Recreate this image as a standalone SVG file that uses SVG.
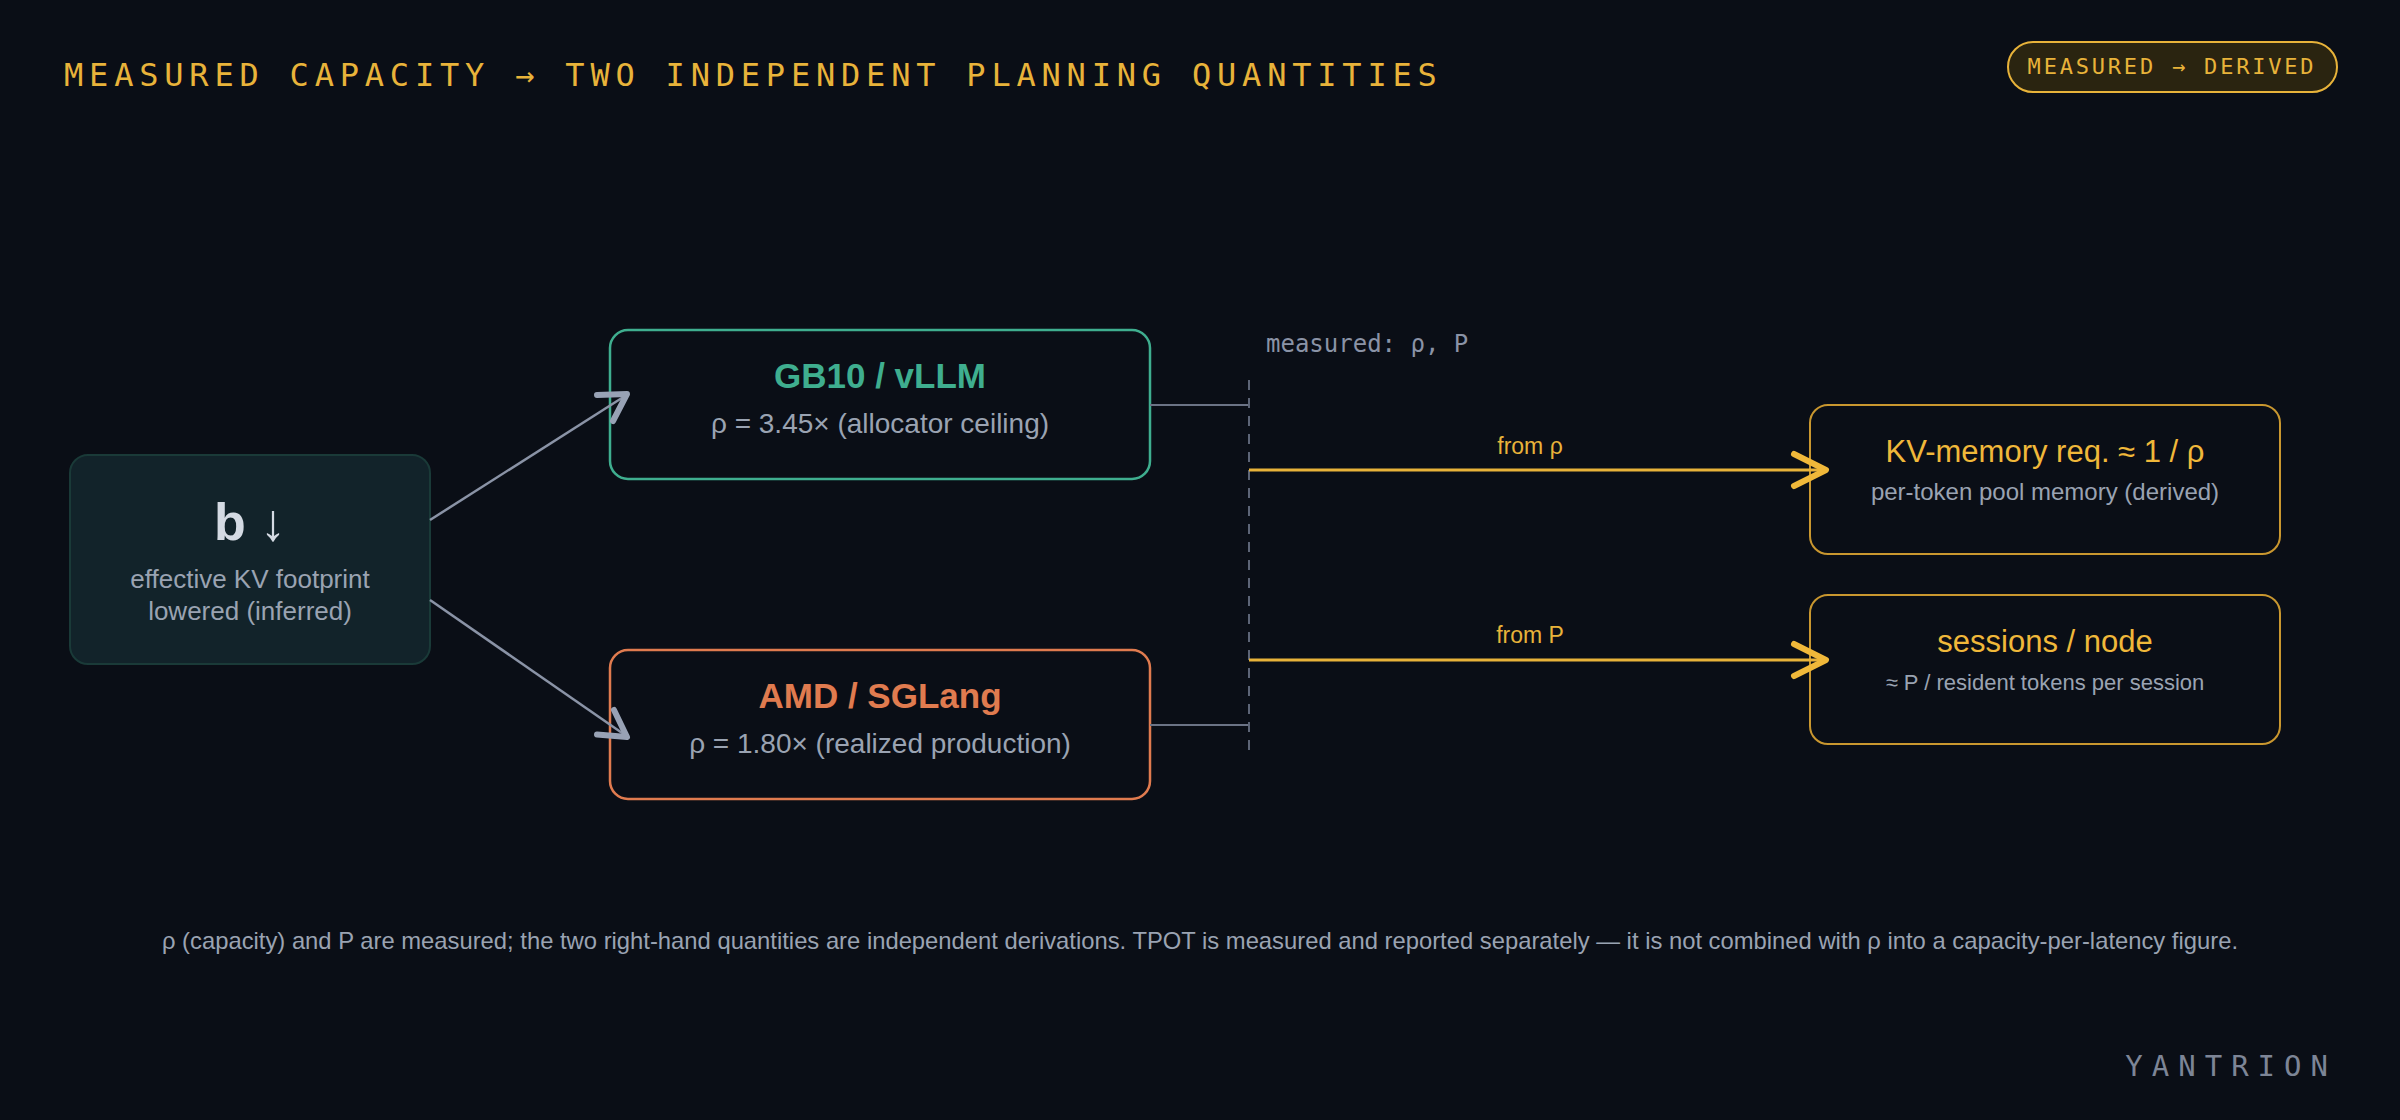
<svg xmlns="http://www.w3.org/2000/svg" width="2400" height="1120" viewBox="0 0 2400 1120">
<defs>
<style>
.mono{font-family:"DejaVu Sans Mono","Liberation Mono",monospace}
.sans{font-family:"Liberation Sans",Arial,sans-serif}
.sub{fill:#9aa3b2;font-size:28px}
.dsub{fill:#9aa3b2;font-size:24px}
.conn{stroke:#8a93a6;stroke-width:2.5;fill:none}
.gold{stroke:#e8b33a;stroke-width:3;fill:none}
.headg{fill:none;stroke:#f0b83a;stroke-width:6;stroke-linecap:round;stroke-linejoin:round}
.headw{fill:none;stroke:#98a2b5;stroke-width:6;stroke-linecap:round;stroke-linejoin:round}
</style>
</defs>
<rect width="2400" height="1120" fill="#0a0e16"/>
<text x="64" y="86" class="mono" font-size="32" fill="#e8b33a" letter-spacing="5.8">MEASURED CAPACITY → TWO INDEPENDENT PLANNING QUANTITIES</text>
<g id="badge">
<rect x="2008" y="42" width="329" height="50" rx="25" fill="#2a2410" stroke="#e8b33a" stroke-width="2"/>
<text x="2172" y="74" class="mono" font-size="22" fill="#e8b33a" text-anchor="middle" letter-spacing="2.8">MEASURED → DERIVED</text>
</g>
<g id="node-b">
<rect x="70" y="455" width="360" height="209" rx="18" fill="#12232a" stroke="#1a3a38" stroke-width="2"/>
<text x="250" y="540" class="sans" font-size="52" fill="#d4dae3" text-anchor="middle"><tspan font-weight="bold">b</tspan> ↓</text>
<text x="250" y="588" class="sans sub" text-anchor="middle" style="font-size:26px">effective KV footprint</text>
<text x="250" y="620" class="sans sub" text-anchor="middle" style="font-size:26px">lowered (inferred)</text>
</g>
<g id="node-gb10">
<rect x="610" y="330" width="540" height="149" rx="18" fill="#0a0e16" stroke="#3fae8f" stroke-width="2.5"/>
<text x="880" y="388" class="sans" font-size="35" font-weight="bold" fill="#3fae8f" text-anchor="middle">GB10 / vLLM</text>
<text x="880" y="433" class="sans sub" text-anchor="middle">ρ = 3.45× (allocator ceiling)</text>
</g>
<g id="node-amd">
<rect x="610" y="650" width="540" height="149" rx="18" fill="#0a0e16" stroke="#e07b4f" stroke-width="2.5"/>
<text x="880" y="708" class="sans" font-size="35" font-weight="bold" fill="#e07b4f" text-anchor="middle">AMD / SGLang</text>
<text x="880" y="753" class="sans sub" text-anchor="middle">ρ = 1.80× (realized production)</text>
</g>
<g id="node-kv">
<rect x="1810" y="405" width="470" height="149" rx="18" fill="#0a0e16" stroke="#c9972f" stroke-width="2"/>
<text x="2045" y="462" class="sans" font-size="31" fill="#f0b83a" text-anchor="middle">KV-memory req. ≈ 1 / ρ</text>
<text x="2045" y="500" class="sans dsub" text-anchor="middle">per-token pool memory (derived)</text>
</g>
<g id="node-sessions">
<rect x="1810" y="595" width="470" height="149" rx="18" fill="#0a0e16" stroke="#c9972f" stroke-width="2"/>
<text x="2045" y="652" class="sans" font-size="31" fill="#f0b83a" text-anchor="middle">sessions / node</text>
<text x="2045" y="690" class="sans" font-size="22" fill="#9aa3b2" text-anchor="middle">≈ P / resident tokens per session</text>
</g>
<g id="connectors">
<line x1="430" y1="520" x2="625" y2="396" class="conn"/>
<path d="M597,395 L627,394 L613,421" class="headw"/>
<line x1="430" y1="600" x2="625" y2="735" class="conn"/>
<path d="M614,710 L627,737 L597,734.5" class="headw"/>
<line x1="1150" y1="405" x2="1249" y2="405" stroke="#6b7385" stroke-width="2"/>
<line x1="1150" y1="725" x2="1249" y2="725" stroke="#6b7385" stroke-width="2"/>
<line x1="1249" y1="380" x2="1249" y2="752" stroke="#5d6577" stroke-width="2" stroke-dasharray="10,8"/>
<line x1="1249" y1="470" x2="1826" y2="470" class="gold"/>
<path d="M1794,454 L1826,470 L1794,486" class="headg"/>
<line x1="1249" y1="660" x2="1826" y2="660" class="gold"/>
<path d="M1794,644 L1826,660 L1794,676" class="headg"/>
<text x="1530" y="454" class="sans" font-size="23" fill="#e8b33a" text-anchor="middle">from ρ</text>
<text x="1530" y="643" class="sans" font-size="23" fill="#e8b33a" text-anchor="middle">from P</text>
<text x="1266" y="352" class="mono" font-size="24" fill="#8a93a6">measured: ρ, P</text>
</g>
<text x="1200" y="949" class="sans" font-size="23.8" fill="#9aa3b2" text-anchor="middle">ρ (capacity) and P are measured; the two right-hand quantities are independent derivations. TPOT is measured and reported separately — it is not combined with ρ into a capacity-per-latency figure.</text>
<text x="2337" y="1076" class="mono" font-size="29" fill="#7d8596" text-anchor="end" letter-spacing="9">YANTRION</text>
</svg>
